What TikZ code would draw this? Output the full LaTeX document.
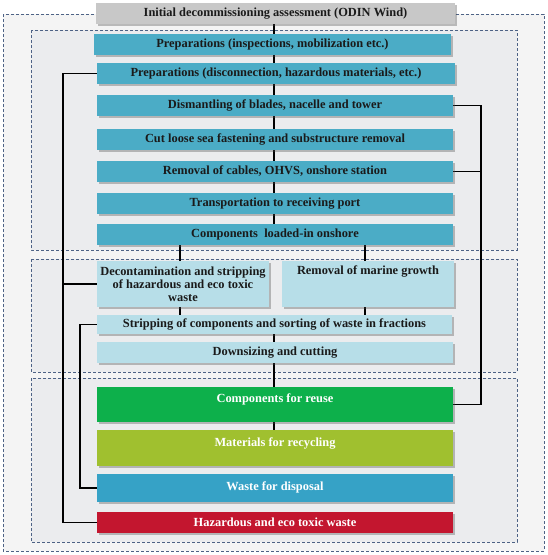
\documentclass[tikz,border=0pt]{standalone}
\usepackage{fontspec}
\setmainfont{Liberation Serif}
\usetikzlibrary{shadows}
\pgfdeclarelayer{back}
\pgfdeclarelayer{mid}
\pgfsetlayers{back,mid,main}
\definecolor{dashc}{HTML}{4D6285}
\definecolor{outerbg}{HTML}{F4F4F4}
\definecolor{innerbg}{HTML}{EBECEE}
\definecolor{grayb}{HTML}{C8C8C8}
\definecolor{blueb}{HTML}{4BACC6}
\definecolor{lblueb}{HTML}{B7DEE8}
\definecolor{greenb}{HTML}{0DB04B}
\definecolor{yellowb}{HTML}{A0C02F}
\definecolor{wasteb}{HTML}{36A2C6}
\definecolor{redb}{HTML}{C3162F}
\definecolor{txt}{HTML}{1A1A1A}
\tikzset{
  region/.style={draw=dashc, dashed, dash pattern=on 3pt off 2pt, line width=0.8pt},
  bx/.style={rectangle, inner sep=0pt, outer sep=0pt, font=\bfseries\fontsize{12.4}{13}\selectfont,
    text=txt, align=center, drop shadow={shadow xshift=2pt, shadow yshift=-2pt, opacity=0.35, fill=black!70}},
  conn/.style={draw=black, line width=1.4pt},
}
\begin{document}
\begin{tikzpicture}[x=1pt,y=-1pt]
\useasboundingbox (0,0) rectangle (548,555);
\begin{pgfonlayer}{back}
\fill[white] (0,0) rectangle (548,555);
\path[region, fill=outerbg] (3,14) rectangle (544,551);
\path[region, fill=innerbg] (31,30) rectangle (517,250);
\path[region, fill=innerbg] (31,259) rectangle (517,372);
\path[region, fill=innerbg] (31,378) rectangle (517,542);
\end{pgfonlayer}
% coordinates for connector columns
\coordinate (cx) at (274,0);
\coordinate (lx) at (180,0);
\coordinate (rx) at (365,0);
\coordinate (l1) at (63,0);
\coordinate (l2) at (80,0);
\coordinate (r1) at (481,0);
% boxes
\node[bx, fill=grayb, minimum width=359pt, minimum height=21pt] (top) at (275.5,13.5) {Initial decommissioning assessment (ODIN Wind)};
\node[bx, fill=blueb, minimum width=357pt, minimum height=21pt] (p1) at (272.5,44.5) {Preparations (inspections, mobilization etc.)};
\node[bx, fill=blueb, minimum width=358pt, minimum height=21pt] (p2) at (276,73.5) {Preparations (disconnection, hazardous materials, etc.)};
\node[bx, fill=blueb, minimum width=356pt, minimum height=21pt] (dis) at (275,105.5) {Dismantling of blades, nacelle and tower};
\node[bx, fill=blueb, minimum width=356pt, minimum height=21pt] (cut) at (275,139.5) {Cut loose sea fastening and substructure removal};
\node[bx, fill=blueb, minimum width=356pt, minimum height=21pt] (cab) at (275,171.5) {Removal of cables, OHVS, onshore station};
\node[bx, fill=blueb, minimum width=356pt, minimum height=21pt] (tra) at (275,203.5) {Transportation to receiving port};
\node[bx, fill=blueb, minimum width=356pt, minimum height=21pt] (com) at (275,234.5) {Components\ \ loaded-in onshore};
\node[bx, fill=lblueb, minimum width=172pt, minimum height=46pt] (dec) at (183,284) {Decontamination and stripping\\of hazardous and eco toxic\\waste};
\node[bx, fill=lblueb, minimum width=172pt, minimum height=46pt, text height=9pt, text depth=29pt] (mar) at (368,284) {Removal of marine growth};
\node[bx, fill=lblueb, minimum width=355pt, minimum height=19pt] (str) at (274.5,324.5) {Stripping of components and sorting of waste in fractions};
\node[bx, fill=lblueb, minimum width=356pt, minimum height=21pt] (dow) at (275,352.5) {Downsizing and cutting};
\node[bx, fill=greenb, text=white, minimum width=356pt, minimum height=35pt, text height=9pt, text depth=14pt] (reu) at (275,404.5) {Components for reuse};
\node[bx, fill=yellowb, text=white, minimum width=356pt, minimum height=36pt, text height=9pt, text depth=13pt] (rec) at (275,448) {Materials for recycling};
\node[bx, fill=wasteb, text=white, minimum width=356pt, minimum height=28pt, text height=9pt, text depth=5pt] (was) at (275,488) {Waste for disposal};
\node[bx, fill=redb, text=white, minimum width=356pt, minimum height=21pt] (haz) at (275,522.5) {Hazardous and eco toxic waste};
% connectors (behind boxes)
\begin{pgfonlayer}{mid}
\draw[conn] (top.south -| cx) -- (p1.north -| cx);
\draw[conn] (p1.south -| cx) -- (p2.north -| cx);
\draw[conn] (p2.south -| cx) -- (dis.north -| cx);
\draw[conn] (dis.south -| cx) -- (cut.north -| cx);
\draw[conn] (cut.south -| cx) -- (cab.north -| cx);
\draw[conn] (cab.south -| cx) -- (tra.north -| cx);
\draw[conn] (tra.south -| cx) -- (com.north -| cx);
\draw[conn] (com.south -| lx) -- (dec.north -| lx);
\draw[conn] (com.south -| rx) -- (mar.north -| rx);
\draw[conn] (dec.south -| lx) -- (str.north -| lx);
\draw[conn] (mar.south -| rx) -- (str.north -| rx);
\draw[conn] (str.south -| cx) -- (dow.north -| cx);
\draw[conn] (dow.south -| cx) -- (reu.north -| cx);
\draw[conn] (reu.south -| cx) -- (rec.north -| cx);
\draw[conn] (p2.west) -- (p2.west -| l1) -- (haz.west -| l1) -- (haz.west);
\draw[conn] (dec.west -| l1) -- (dec.west);
\draw[conn] (str.west) -- (str.west -| l2) -- (was.west -| l2) -- (was.west);
\draw[conn] (dis.east) -- (dis.east -| r1) -- (reu.east -| r1) -- (reu.east);
\draw[conn] (cab.east) -- (cab.east -| r1);
\end{pgfonlayer}
\end{tikzpicture}
\end{document}
